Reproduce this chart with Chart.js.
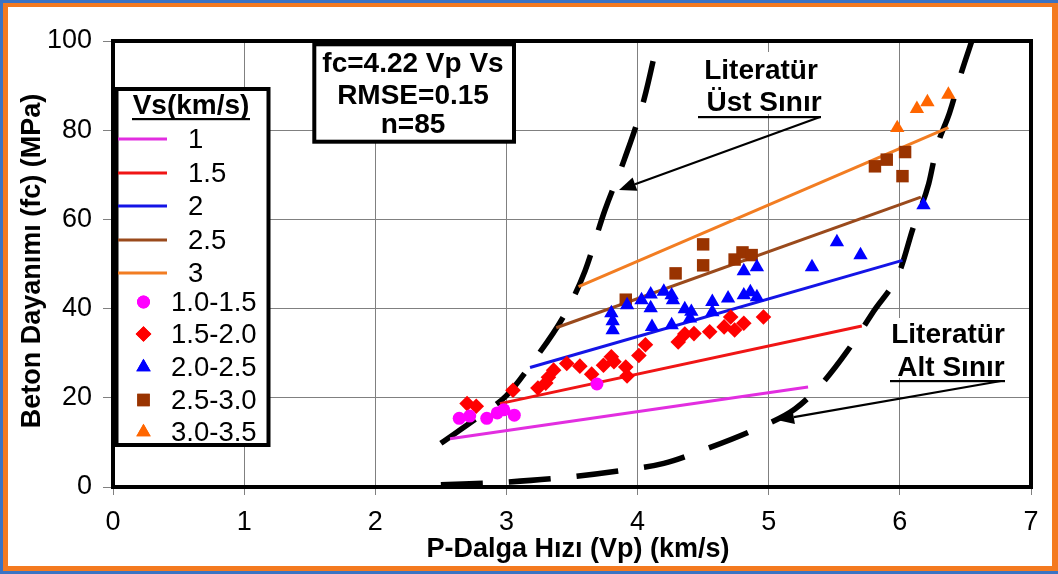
<!DOCTYPE html>
<html><head><meta charset="utf-8">
<script src="https://cdn.jsdelivr.net/npm/chart.js@4.4.1/dist/chart.umd.min.js"></script>
<style>html,body{margin:0;padding:0;background:#fff;overflow:hidden}#wrap{width:1058px;height:574px;position:relative}</style>
</head><body><div id="wrap"><canvas id="c" width="1058" height="574"></canvas></div>
<script>
// ---------- data ----------
const xTicks = [0, 1, 2, 3, 4, 5, 6, 7];
const yTicks = [0, 20, 40, 60, 80, 100];
const xTitle = 'P-Dalga Hızı (Vp) (km/s)';
const yTitle = 'Beton Dayanımı (fc) (MPa)';
const legendTitle = 'Vs(km/s)';
const boxLines = ['fc=4.22 Vp Vs', 'RMSE=0.15', 'n=85'];

// model lines (Vs = 1 ... 3), endpoints
const fitLabels = ['1', '1.5', '2', '2.5', '3'];
const fitVp = [[2.57, 5.30], [2.95, 5.71], [3.18, 6.02], [3.38, 6.16], [3.55, 6.37]];
const fitFc = [[10.8, 22.4], [18.7, 36.1], [26.8, 50.8], [35.7, 65.0], [44.9, 80.6]];

// measured groups
const grpLabels = ['1.0-1.5', '1.5-2.0', '2.0-2.5', '2.5-3.0', '3.0-3.5'];
const pinkVp = [2.64, 2.72, 2.85, 2.93, 2.98, 3.06, 3.69];
const pinkFc = [15.4, 15.9, 15.4, 16.6, 17.3, 16.1, 23.1];
const redVp = [2.70, 2.77, 3.05, 3.24, 3.30, 3.32, 3.36, 3.46, 3.56, 3.65, 3.74, 3.80, 3.82, 3.91, 3.92, 4.01, 4.06, 4.31, 4.36, 4.43, 4.55, 4.66, 4.71, 4.74, 4.81, 4.96];
const redFc = [18.7, 18.1, 21.7, 22.2, 23.3, 24.6, 26.2, 27.7, 27.1, 25.3, 27.3, 29.2, 28.1, 26.9, 24.9, 29.5, 31.9, 32.5, 34.3, 34.4, 34.8, 35.9, 38.1, 35.2, 36.7, 38.1];
const blueVp = [3.80, 3.81, 3.81, 3.92, 4.03, 4.10, 4.10, 4.11, 4.20, 4.26, 4.27, 4.26, 4.36, 4.41, 4.40, 4.57, 4.57, 4.69, 4.81, 4.86, 4.91, 4.81, 4.91, 5.33, 5.52, 5.70, 6.18];
const blueFc = [39.0, 37.2, 35.2, 40.8, 41.9, 43.2, 40.1, 35.9, 43.8, 43.0, 41.9, 36.3, 39.9, 39.3, 37.8, 41.5, 39.2, 42.3, 43.0, 43.7, 42.6, 48.4, 49.3, 49.3, 54.9, 52.0, 63.2];
const brownVp = [3.91, 4.29, 4.50, 4.50, 4.74, 4.80, 4.87, 5.81, 5.90, 6.04, 6.02];
const brownFc = [42.0, 47.9, 54.4, 49.7, 51.0, 52.6, 52.0, 71.9, 73.4, 75.1, 69.7];
const orangeVp = [5.98, 6.13, 6.21, 6.37];
const orangeFc = [80.5, 84.8, 86.3, 88.0];

// literature bounds (dashed)
const upperVp = [2.50, 2.80, 3.00, 3.20, 3.45, 3.60, 3.75, 3.90, 4.05, 4.16];
const upperFc = [9.8, 16.0, 20.5, 28.0, 39.0, 48.5, 62.0, 73.5, 87.0, 101];
const lowerVp = [2.50, 3.00, 3.40, 3.90, 4.20, 4.50, 4.90, 5.20, 5.40, 5.60, 5.80, 6.00, 6.10, 6.22, 6.28, 6.38, 6.47, 6.56];
const lowerFc = [0.5, 1.1, 2.0, 3.8, 5.3, 8.3, 13.0, 17.5, 23.0, 30.5, 39.4, 48.5, 58.0, 68.0, 76.0, 84.0, 93.0, 101];
const annUpper = ['Literatür', 'Üst Sınır'];
const annLower = ['Literatür', 'Alt Sınır'];

// ---------- styles ----------
const fitColors = ['#e22ee0', '#f01515', '#1414e6', '#9a4a1c', '#f27d22'];
const grpColors = ['#ff00ff', '#ff0000', '#0000ff', '#993300', '#ff6600'];
const grpStyles = ['circle', 'rectRot', 'triangle', 'rect', 'triangle'];
const grpRadius = [6.5, 7.8, 8.3, 8.8, 8.3];
const FONT = '"Liberation Sans", Arial, sans-serif';

const zip = (xs, ys) => xs.map((x, i) => ({x, y: ys[i]}));
const datasets = [];
const grpVp = [pinkVp, redVp, blueVp, brownVp, orangeVp];
const grpFc = [pinkFc, redFc, blueFc, brownFc, orangeFc];
grpLabels.forEach((l, i) => datasets.push({
  type: 'scatter', label: l, data: zip(grpVp[i], grpFc[i]),
  pointStyle: grpStyles[i], pointRadius: grpRadius[i], pointHoverRadius: grpRadius[i],
  backgroundColor: grpColors[i], borderColor: grpColors[i], borderWidth: 0, order: 1
}));
fitLabels.forEach((l, i) => datasets.push({
  type: 'line', label: l, data: zip(fitVp[i], fitFc[i]),
  borderColor: fitColors[i], borderWidth: 3, pointRadius: 0, fill: false, order: 2
}));
datasets.push({type: 'line', label: 'upper', data: zip(upperVp, upperFc), borderColor: '#000', borderWidth: 5.5,
  borderDash: [42, 26], pointRadius: 0, fill: false, cubicInterpolationMode: 'monotone', order: 3, borderCapStyle: 'butt'});
datasets.push({type: 'line', label: 'lower', data: zip(lowerVp, lowerFc), borderColor: '#000', borderWidth: 5.5,
  borderDash: [42, 26], pointRadius: 0, fill: false, cubicInterpolationMode: 'monotone', order: 3, borderCapStyle: 'butt'});

function arrow(ctx, x1, y1, x2, y2) {
  const a = Math.atan2(y2 - y1, x2 - x1), L = 17, W = 7;
  const bx = x2 - L * Math.cos(a), by = y2 - L * Math.sin(a);
  ctx.beginPath(); ctx.moveTo(x1, y1); ctx.lineTo(bx, by); ctx.lineWidth = 2.2; ctx.strokeStyle = '#000'; ctx.stroke();
  ctx.beginPath(); ctx.moveTo(x2, y2);
  ctx.lineTo(bx + W * Math.sin(a), by - W * Math.cos(a));
  ctx.lineTo(bx - W * Math.sin(a), by + W * Math.cos(a));
  ctx.closePath(); ctx.fillStyle = '#000'; ctx.fill();
}

const deco = {
  id: 'deco',
  beforeDraw(chart) {
    const ctx = chart.ctx;
    ctx.save();
    ctx.fillStyle = '#3b73c4'; ctx.fillRect(0, 0, 1058, 574);
    ctx.fillStyle = '#f47a20'; ctx.fillRect(3, 3, 1055, 568);
    ctx.fillStyle = '#ffffff'; ctx.fillRect(8, 7, 1044, 559);
    ctx.restore();
  },
  beforeDatasetsDraw(chart) {
    const ctx = chart.ctx;
    ctx.save();
    ctx.fillStyle = '#fff';
    ctx.fillRect(670, 52, 180, 62);
    ctx.fillRect(872, 318, 153, 60);
    ctx.fillStyle = '#000'; ctx.textAlign = 'center'; ctx.textBaseline = 'middle';
    ctx.font = 'bold 28px ' + FONT;
    ctx.fillText(annUpper[0], 761, 71);
    ctx.fillText(annUpper[1], 764, 103);
    ctx.fillText(annLower[0], 948, 335);
    ctx.fillText(annLower[1], 951, 368);
    ctx.fillRect(698, 116, 123, 2.2);
    ctx.fillRect(890, 380, 115, 2.2);
    ctx.restore();
  },
  afterDraw(chart) {
    const ctx = chart.ctx, a = chart.chartArea;
    ctx.save();
    // plot frame
    ctx.strokeStyle = '#000'; ctx.lineWidth = 4;
    ctx.strokeRect(a.left, a.top, a.right - a.left, a.bottom - a.top);
    // arrows
    arrow(ctx, 820, 117, 619, 190);
    arrow(ctx, 1001, 381, 777, 420);
    // text box
    ctx.fillStyle = '#fff'; ctx.fillRect(314, 44, 200, 97);
    ctx.lineWidth = 4; ctx.strokeRect(314.3, 44.3, 199.7, 97.4);
    ctx.fillStyle = '#000'; ctx.textAlign = 'center'; ctx.textBaseline = 'middle';
    ctx.font = 'bold 28px ' + FONT;
    ctx.fillText(boxLines[0], 413, 64);
    ctx.fillText(boxLines[1], 413, 96);
    ctx.fillText(boxLines[2], 413, 125);
    // legend box
    ctx.fillStyle = '#fff'; ctx.fillRect(116, 89, 152, 356);
    ctx.strokeRect(116.5, 89, 152, 356);
    ctx.fillStyle = '#000';
    ctx.fillText(legendTitle, 191, 106);
    ctx.fillRect(132, 118, 118, 2.2);
    ctx.font = '27.5px ' + FONT; ctx.textAlign = 'left';
    const lineY = [139, 173, 206, 240, 273];
    fitLabels.forEach((l, i) => {
      ctx.strokeStyle = fitColors[i]; ctx.lineWidth = 3;
      ctx.beginPath(); ctx.moveTo(118, lineY[i]); ctx.lineTo(167, lineY[i]); ctx.stroke();
      ctx.fillStyle = '#000'; ctx.fillText(l, 188, lineY[i] + 1);
    });
    const grpY = [302, 334, 367, 400, 432];
    grpLabels.forEach((l, i) => {
      ctx.fillStyle = grpColors[i];
      Chart.helpers.drawPoint(ctx, {pointStyle: grpStyles[i], radius: grpRadius[i], borderWidth: 0}, 143.5, grpY[i]);
      ctx.fill();
      ctx.fillStyle = '#000'; ctx.fillText(l, 171, grpY[i] + 1);
    });
    // axis titles
    ctx.textAlign = 'center'; ctx.font = 'bold 27px ' + FONT;
    ctx.fillText(xTitle, 578, 550);
    ctx.translate(33, 261); ctx.rotate(-Math.PI / 2);
    ctx.fillText(yTitle, 0, 0);
    ctx.restore();
  }
};

new Chart(document.getElementById('c'), {
  data: {datasets},
  options: {
    responsive: false, animation: false,
    layout: {padding: {left: 0, top: 41, right: 27, bottom: 0}},
    plugins: {legend: {display: false}, tooltip: {enabled: false}},
    scales: {
      x: {
        type: 'linear', min: 0, max: 7,
        afterBuildTicks: s => { s.ticks = xTicks.map(v => ({value: v})); },
        afterFit: s => { s.height = 87; },
        ticks: {color: '#000', font: {size: 27, family: FONT}, padding: 11},
        grid: {color: '#808080', lineWidth: 1, tickLength: 8, drawOnChartArea: true},
        border: {display: false}
      },
      y: {
        type: 'linear', min: 0, max: 100,
        afterBuildTicks: s => { s.ticks = yTicks.map(v => ({value: v})); },
        afterFit: s => { s.width = 113; },
        ticks: {color: '#000', font: {size: 27, family: FONT}, padding: 11},
        grid: {color: '#808080', lineWidth: 1, tickLength: 10},
        border: {display: false}
      }
    }
  },
  plugins: [deco]
});
</script>
</body></html>
